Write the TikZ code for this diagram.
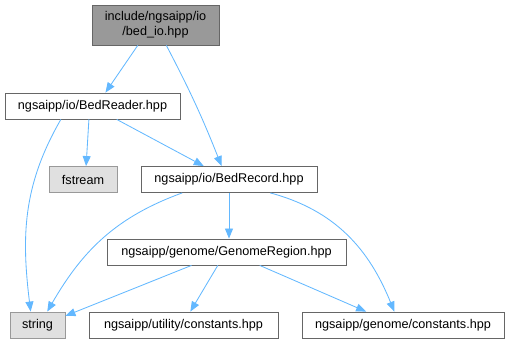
\documentclass[tikz,border=0pt]{standalone}
\usepackage{fontspec}
\setmainfont{Liberation Sans}
\usetikzlibrary{arrows.meta}

\definecolor{edgeblue}{HTML}{63B8FF}
\definecolor{boxline}{HTML}{666666}
\definecolor{sysline}{HTML}{999999}
\definecolor{sysfill}{HTML}{E0E0E0}
\definecolor{rootfill}{HTML}{999999}

\tikzset{
  file/.style={draw=boxline, fill=white, line width=0.6pt, inner sep=0pt,
    minimum height=0.65cm, font=\fontsize{9}{10.5}\selectfont},
  sysfile/.style={file, draw=sysline, fill=sysfill},
  rootfile/.style={file, fill=rootfill, align=center, minimum height=1cm},
  dep/.style={edgeblue, line width=0.6pt, -{Triangle[length=2.5mm,width=2mm]}},
}

\begin{document}
\begin{tikzpicture}
\useasboundingbox (0,0) rectangle (12.75,8.6);
%\draw [help lines] (0,0) grid (12,8);
\node [rootfile, minimum width=3.175cm] (bedio) at (3.8875,7.975) {include/ngsaipp/io\\/bed\_io.hpp};
\node [file, minimum width=4.375cm] (reader) at (2.3125,5.95) {ngsaipp/io/BedReader.hpp};
\node [sysfile, minimum width=1.7cm] (fstream) at (2.075,4.1125) {fstream};
\node [file, minimum width=4.4cm] (record) at (5.725,4.1125) {ngsaipp/io/BedRecord.hpp};
\node [file, minimum width=5.975cm] (region) at (5.6625,2.3) {ngsaipp/genome/GenomeRegion.hpp};
\node [sysfile, minimum width=1.375cm] (string) at (0.9375,0.475) {string};
\node [file, minimum width=4.725cm] (uconst) at (4.5875,0.475) {ngsaipp/utility/constants.hpp};
\node [file, minimum width=5.05cm] (gconst) at (10.075,0.475) {ngsaipp/genome/constants.hpp};

% includes of bed_io.hpp
\draw [dep] (bedio.229) -- (reader.46);
\draw [dep] (bedio.298) to [bend left=3] (record.119);

% includes of BedReader.hpp
\draw [dep] (reader.203) to [out=240, in=97] (string.117);
\draw [dep] (reader.255) -- (fstream.77);
\draw [dep] (reader.331) -- (record.152);

% includes of BedRecord.hpp
\draw [dep] (record.196) to [out=200, in=60] (string.54);
\draw [dep] (record.south) -- (record.south |- region.north);
\draw [dep] (record.342) to [out=-15, in=112] (gconst.123);

% includes of GenomeRegion.hpp
\draw [dep] (region.201) -- (string.18);
\draw [dep] (region.237) -- (uconst.63);
\draw [dep] (region.338) -- (gconst.160);
\end{tikzpicture}
\end{document}
